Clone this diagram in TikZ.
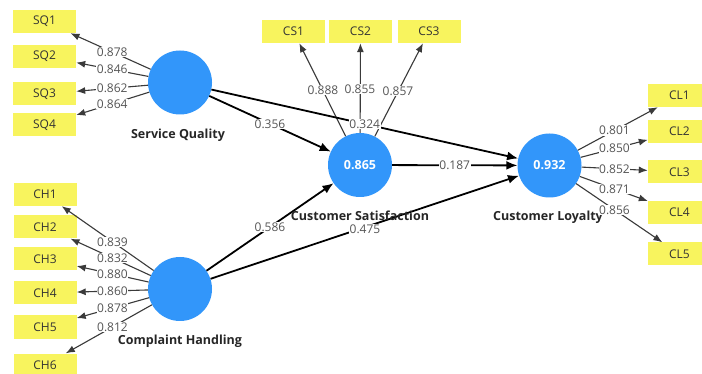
\documentclass[tikz,border=0pt]{standalone}
\usepackage{fontspec}
\setmainfont{Open Sans}
\usetikzlibrary{arrows.meta,calc}
\definecolor{lvblue}{HTML}{3296FA}
\definecolor{indyellow}{HTML}{F8F45E}
\definecolor{lblgray}{HTML}{555555}
\definecolor{indline}{HTML}{3A3A3A}
\tikzset{
  latent/.style={circle,fill=lvblue,draw=none,minimum size=64pt,inner sep=0pt,
    text=white,font=\fontsize{12.5}{14}\selectfont\bfseries},
  indbox/.style={rectangle,fill=indyellow,draw=none,minimum width=63pt,minimum height=23pt,
    inner sep=0pt,text=black!80,font=\fontsize{12}{14}\selectfont},
  lvname/.style={font=\fontsize{12.5}{14}\selectfont\bfseries,text=black!85,inner sep=0pt},
  val/.style={fill=white,inner sep=0.6pt,text=lblgray,font=\fontsize{12}{13}\selectfont},
  indarrow/.style={draw=indline,line width=1.1pt,-{Latex[length=9pt,width=7pt]}},
  strarrow/.style={draw=black,line width=1.8pt,-{Latex[length=11pt,width=9pt]}},
}
\begin{document}
\begin{tikzpicture}[x=1pt,y=-1pt]
\useasboundingbox (0,0) rectangle (702,374);
\fill[white] (0,0) rectangle (702,374);
% latent variables
\node[latent] (sq) at (180,82.5) {};
\node[latent] (ch) at (180,289) {};
\node[latent] (cs) at (360,165) {0.865};
\node[latent] (cl) at (549.5,165.5) {0.932};
% indicators
\node[indbox] (sq1) at (44.5,21.5) {SQ1};
\node[indbox] (sq2) at (44.5,56.5) {SQ2};
\node[indbox] (sq3) at (44.5,94) {SQ3};
\node[indbox] (sq4) at (44.5,125) {SQ4};
\node[indbox] (ch1) at (45,194.5) {CH1};
\node[indbox] (ch2) at (45,227) {CH2};
\node[indbox] (ch3) at (45,259) {CH3};
\node[indbox] (ch4) at (45,293) {CH4};
\node[indbox] (ch5) at (45,327) {CH5};
\node[indbox] (ch6) at (45,365) {CH6};
\node[indbox] (cs1) at (293.5,31.5) {CS1};
\node[indbox] (cs2) at (360.5,31.5) {CS2};
\node[indbox] (cs3) at (429,31.5) {CS3};
\node[indbox] (cl1) at (679.5,95.5) {CL1};
\node[indbox] (cl2) at (679.5,131.5) {CL2};
\node[indbox] (cl3) at (679.5,172) {CL3};
\node[indbox] (cl4) at (679.5,212.5) {CL4};
\node[indbox] (cl5) at (679.5,254) {CL5};
% outer loadings arrows
\foreach \a/\b in {sq/sq1,sq/sq2,sq/sq3,sq/sq4,ch/ch1,ch/ch2,ch/ch3,ch/ch4,ch/ch5,ch/ch6,
  cs/cs1,cs/cs2,cs/cs3,cl/cl1,cl/cl2,cl/cl3,cl/cl4,cl/cl5}
  \draw[indarrow] (\a) -- (\b);
% structural paths
\draw[strarrow] (sq) -- (cs);
\draw[strarrow] (sq) -- (cl);
\draw[strarrow] (cs) -- (cl);
\draw[strarrow] (ch) -- (cs);
\draw[strarrow] (ch) -- (cl);
% latent names
\node[lvname] (nsq) at (178,135) {Service Quality};
\node[lvname] (nch) at (180,341) {Complaint Handling};
\node[lvname] (ncs) at (360,216) {Customer Satisfaction};
\node[lvname] (ncl) at (548,217) {Customer Loyalty};
% loading values
\node[val] (v1) at ($(sq)!0.5!(sq1)$) {0.878};
\node[val] (v2) at ($(sq)!0.5!(sq2)$) {0.846};
\node[val] (v3) at ($(sq)!0.5!(sq3)$) {0.862};
\node[val] (v4) at ($(sq)!0.5!(sq4)$) {0.864};
\node[val] (v5) at ($(ch)!0.5!(ch1)$) {0.839};
\node[val] (v6) at ($(ch)!0.5!(ch2)$) {0.832};
\node[val] (v7) at ($(ch)!0.5!(ch3)$) {0.880};
\node[val] (v8) at ($(ch)!0.5!(ch4)$) {0.860};
\node[val] (v9) at ($(ch)!0.5!(ch5)$) {0.878};
\node[val] (v10) at ($(ch)!0.5!(ch6)$) {0.812};
\node[val] (v11) at (323,90) {0.888};
\node[val] (v12) at (360,89) {0.855};
\node[val] (v13) at (398,91) {0.857};
\node[val] (v14) at ($(cl)!0.5!(cl1)$) {0.801};
\node[val] (v15) at ($(cl)!0.5!(cl2)$) {0.850};
\node[val] (v16) at ($(cl)!0.5!(cl3)$) {0.852};
\node[val] (v17) at ($(cl)!0.5!(cl4)$) {0.871};
\node[val] (v18) at ($(cl)!0.5!(cl5)$) {0.856};
% path coefficients
\node[val] (p1) at ($(sq)!0.5!(cs)$) {0.356};
\node[val] (p2) at ($(sq)!0.5!(cl)$) {0.324};
\node[val] (p3) at ($(cs)!0.5!(cl)$) {0.187};
\node[val] (p4) at ($(ch)!0.5!(cs)$) {0.586};
\node[val] (p5) at (365,229.5) {0.475};
\end{tikzpicture}
\end{document}
